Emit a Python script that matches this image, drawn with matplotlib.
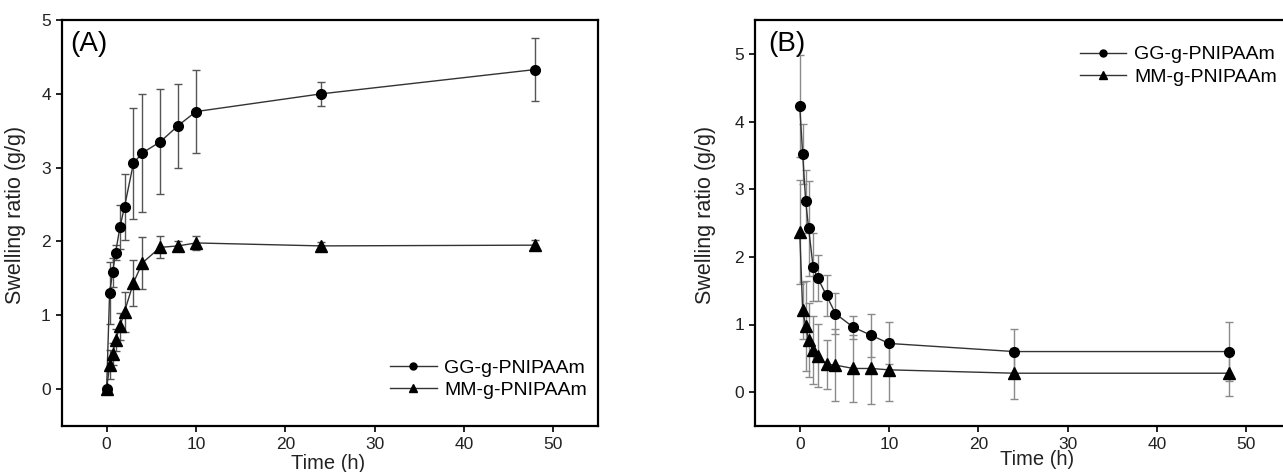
import matplotlib
matplotlib.use('Agg')
import matplotlib.pyplot as plt
from matplotlib.lines import Line2D
import numpy as np

plt.rcParams['font.family'] = ['Liberation Sans', 'DejaVu Sans']

# sampling times (h)
time_h = np.array([0, 0.33, 0.67, 1, 1.5, 2, 3, 4, 6, 8, 10, 24, 48])
labels = ['GG-g-PNIPAAm', 'MM-g-PNIPAAm']

# (A) swelling
gg_a = np.array([0, 1.30, 1.58, 1.85, 2.20, 2.47, 3.06, 3.20, 3.35, 3.57, 3.76, 4.00, 4.33])
gg_a_err = np.array([0.02, 0.42, 0.2, 0.1, 0.3, 0.45, 0.75, 0.8, 0.71, 0.57, 0.56, 0.16, 0.43])
mm_a = np.array([0, 0.33, 0.47, 0.66, 0.85, 1.05, 1.44, 1.71, 1.92, 1.94, 1.98, 1.94, 1.95])
mm_a_err = np.array([0.02, 0.2, 0.15, 0.15, 0.18, 0.27, 0.31, 0.35, 0.15, 0.07, 0.1, 0.05, 0.07])

# (B) deswelling
gg_b = np.array([4.23, 3.52, 2.82, 2.42, 1.85, 1.69, 1.43, 1.16, 0.96, 0.84, 0.72, 0.60, 0.60])
gg_b_err = np.array([0.75, 0.45, 0.47, 0.7, 0.5, 0.34, 0.3, 0.3, 0.17, 0.32, 0.31, 0.33, 0.44])
mm_b = np.array([2.37, 1.21, 0.98, 0.77, 0.62, 0.54, 0.41, 0.40, 0.35, 0.35, 0.33, 0.28, 0.28])
mm_b_err = np.array([0.77, 0.42, 0.67, 0.55, 0.5, 0.47, 0.36, 0.53, 0.5, 0.53, 0.46, 0.38, 0.34])

fig = plt.figure(figsize=(12.83, 4.72), dpi=100)
axA = fig.add_axes([0.0483, 0.0975, 0.4178, 0.860])
axB = fig.add_axes([0.5885, 0.0975, 0.4178, 0.860])

# legend handles without error bars
handles = [Line2D([], [], color='#333333', lw=1.0, marker='o', ms=5, mfc='black', mec='black'),
           Line2D([], [], color='#333333', lw=1.0, marker='^', ms=5.5, mfc='black', mec='black')]


def draw(ax, y1, e1, y2, e2, ecol):
    ax.errorbar(time_h, y1, yerr=e1, color='#333333', lw=1.0, marker='o', ms=7,
                mfc='black', mec='black', ecolor=ecol, elinewidth=1.0, capsize=3,
                capthick=1.0, zorder=3)
    ax.errorbar(time_h, y2, yerr=e2, color='#333333', lw=1.0, marker='^', ms=8,
                mfc='black', mec='black', ecolor=ecol, elinewidth=1.0, capsize=3,
                capthick=1.0, zorder=3)
    ax.set_xlim(-5, 55)
    ax.set_xticks([0, 10, 20, 30, 40, 50])
    for s in ax.spines.values():
        s.set_linewidth(1.6)
    ax.tick_params(direction='out', length=4, width=1.4, labelsize=12.5,
                   colors='#222222', top=False, right=False, pad=4)
    ax.set_ylabel('Swelling ratio (g/g)', fontsize=15.5, color='#222222')
    ax.set_xlabel('Time (h)', fontsize=14.5, color='#222222')
    ax.xaxis.label.set_va('center')


draw(axA, gg_a, gg_a_err, mm_a, mm_a_err, '#555555')
axA.set_ylim(-0.5, 5)
axA.set_yticks([0, 1, 2, 3, 4, 5])
axA.xaxis.set_label_coords(0.496, -0.092)
axA.yaxis.set_label_coords(-0.067, 0.52)
axA.text(0.015, 0.94, '(A)', transform=axA.transAxes, fontsize=20, va='center')
axA.legend(handles, labels, loc='lower right', bbox_to_anchor=(1.005, 0.033), frameon=False,
           fontsize=14, handlelength=2.4, handletextpad=0.4, labelspacing=0.25,
           borderpad=0.2)

draw(axB, gg_b, gg_b_err, mm_b, mm_b_err, '#8a8a8a')
axB.set_ylim(-0.5, 5.5)
axB.set_yticks([0, 1, 2, 3, 4, 5])
axB.xaxis.set_label_coords(0.526, -0.082)
axB.yaxis.set_label_coords(-0.073, 0.52)
axB.text(0.025, 0.94, '(B)', transform=axB.transAxes, fontsize=20, va='center')
axB.legend(handles, labels, loc='upper left', bbox_to_anchor=(0.58, 0.97), frameon=False,
           fontsize=14, handlelength=2.4, handletextpad=0.4, labelspacing=0.25,
           borderpad=0.2)

fig.savefig('out.png', dpi=100)
